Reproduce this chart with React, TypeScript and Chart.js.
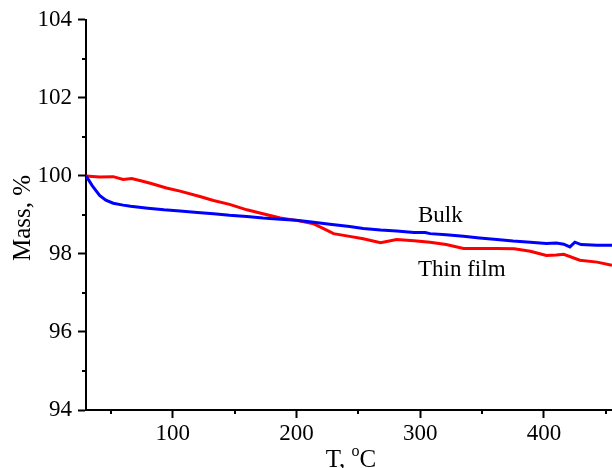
import { useEffect, useRef } from "react";
import { Chart, registerables } from "chart.js";
Chart.register(...registerables);

const bulkT = [30, 35, 41, 46, 52, 60, 66, 80, 93, 106, 120, 133, 146, 160, 173, 187, 200, 214, 227, 243, 254, 268, 281, 295, 304, 308, 321, 335, 348, 362, 375, 389, 402, 410, 416, 421, 425, 430, 443, 455];
const bulkMass = [100.0, 99.75, 99.5, 99.38, 99.3, 99.25, 99.22, 99.17, 99.13, 99.1, 99.06, 99.03, 98.99, 98.96, 98.92, 98.89, 98.86, 98.81, 98.76, 98.7, 98.65, 98.61, 98.59, 98.55, 98.55, 98.52, 98.49, 98.45, 98.41, 98.37, 98.33, 98.3, 98.27, 98.28, 98.25, 98.18, 98.3, 98.24, 98.22, 98.22];

const filmT = [30, 41, 52, 60, 67, 75, 82, 95, 106, 122, 133, 146, 160, 173, 187, 200, 214, 222, 230, 243, 254, 268, 281, 295, 308, 321, 335, 348, 362, 376, 389, 402, 410, 416, 429, 443, 455];
const filmMass = [100.0, 99.97, 99.98, 99.91, 99.93, 99.87, 99.81, 99.69, 99.61, 99.47, 99.37, 99.27, 99.13, 99.03, 98.92, 98.86, 98.77, 98.65, 98.52, 98.45, 98.39, 98.29, 98.37, 98.34, 98.3, 98.24, 98.14, 98.14, 98.14, 98.13, 98.07, 97.96, 97.97, 97.99, 97.84, 97.79, 97.71];

const xTickValues = [50, 100, 150, 200, 250, 300, 350, 400, 450];
const yTickValues = [94, 95, 96, 97, 98, 99, 100, 101, 102, 103, 104];
const xMajorStep = 100;
const yMajorStep = 2;

const seriesNames = ["Bulk", "Thin film"];
const yTitle = "Mass, %";

const FONT = "'Liberation Serif', 'Times New Roman', serif";

const overlayPlugin = {
  id: "overlay",
  afterDraw(chart: any) {
    const ctx = chart.ctx;
    const xs = chart.scales.x;
    const ys = chart.scales.y;
    const ca = chart.chartArea;
    ctx.save();
    ctx.strokeStyle = "#000";
    ctx.lineWidth = 2;
    // minor ticks
    xTickValues.forEach((v) => {
      if (v % xMajorStep !== 0) {
        const px = Math.round(xs.getPixelForValue(v));
        ctx.beginPath();
        ctx.moveTo(px, ca.bottom);
        ctx.lineTo(px, ca.bottom + 4);
        ctx.stroke();
      }
    });
    yTickValues.forEach((v) => {
      if (v % yMajorStep !== 0) {
        const py = Math.round(ys.getPixelForValue(v));
        ctx.beginPath();
        ctx.moveTo(ca.left, py);
        ctx.lineTo(ca.left - 4, py);
        ctx.stroke();
      }
    });
    ctx.fillStyle = "#000";
    // series labels
    ctx.font = `23px ${FONT}`;
    ctx.textAlign = "left";
    ctx.textBaseline = "alphabetic";
    ctx.fillText(seriesNames[0], 418, 222);
    ctx.fillText(seriesNames[1], 418, 276);
    // y title
    ctx.save();
    ctx.translate(30, (ca.top + ca.bottom) / 2 + 3);
    ctx.rotate(-Math.PI / 2);
    ctx.font = `25px ${FONT}`;
    ctx.textAlign = "center";
    ctx.fillText(yTitle, 0, 0);
    ctx.restore();
    // x title: T, °C with superscript o
    const big = `25px ${FONT}`;
    const small = `16px ${FONT}`;
    ctx.font = big;
    const p1 = "T, ";
    const p3 = "C";
    const w1 = ctx.measureText(p1).width;
    const w3 = ctx.measureText(p3).width;
    ctx.font = small;
    const w2 = ctx.measureText("o").width;
    const total = w1 + w2 + w3;
    let x = (ca.left + ca.right) / 2 - total / 2 + 2;
    const base = 467;
    ctx.textAlign = "left";
    ctx.font = big;
    ctx.fillText(p1, x, base);
    x += w1;
    ctx.font = small;
    ctx.fillText("o", x, base - 11);
    x += w2;
    ctx.font = big;
    ctx.fillText(p3, x, base);
    ctx.restore();
  },
};

export default function App() {
  const ref = useRef<HTMLCanvasElement>(null);
  useEffect(() => {
    if (!ref.current) return;
    const chart = new Chart(ref.current, {
      type: "line",
      data: {
        datasets: [
          {
            label: seriesNames[0],
            data: bulkT.map((t, i) => ({ x: t, y: bulkMass[i] })),
            borderColor: "#0000ff",
            backgroundColor: "#0000ff",
            borderWidth: 3,
            pointRadius: 0,
            tension: 0,
          },
          {
            label: seriesNames[1],
            data: filmT.map((t, i) => ({ x: t, y: filmMass[i] })),
            borderColor: "#ff0000",
            backgroundColor: "#ff0000",
            borderWidth: 3,
            pointRadius: 0,
            tension: 0,
          },
        ],
      },
      options: {
        animation: false,
        responsive: false,
        layout: { padding: { top: 19, left: 0, right: 0, bottom: 0 } },
        plugins: {
          legend: { display: false },
          tooltip: { enabled: false },
        },
        scales: {
          x: {
            type: "linear",
            min: 30,
            max: 455,
            afterBuildTicks: (s: any) => {
              s.ticks = xTickValues.map((v) => ({ value: v }));
            },
            afterFit: (s: any) => {
              s.height = 58;
            },
            ticks: {
              autoSkip: false,
              maxRotation: 0,
              padding: 2,
              color: "#000",
              font: { family: FONT, size: 23 },
              callback: (v: any) => (Number(v) % xMajorStep === 0 ? String(v) : ""),
            },
            grid: {
              drawOnChartArea: false,
              drawTicks: true,
              tickLength: 8,
              tickWidth: 2,
              tickColor: (c: any) => (c.tick && c.tick.value % xMajorStep === 0 ? "#000" : "rgba(0,0,0,0)"),
            },
            border: { display: true, color: "#000", width: 2 },
          },
          y: {
            type: "linear",
            min: 94,
            max: 104,
            afterBuildTicks: (s: any) => {
              s.ticks = yTickValues.map((v) => ({ value: v }));
            },
            afterFit: (s: any) => {
              s.width = 86;
            },
            ticks: {
              autoSkip: false,
              padding: 6,
              color: "#000",
              font: { family: FONT, size: 23 },
              callback: (v: any) => (Number(v) % yMajorStep === 0 ? String(v) : ""),
            },
            grid: {
              drawOnChartArea: false,
              drawTicks: true,
              tickLength: 8,
              tickWidth: 2,
              tickColor: (c: any) => (c.tick && c.tick.value % yMajorStep === 0 ? "#000" : "rgba(0,0,0,0)"),
            },
            border: { display: true, color: "#000", width: 2 },
          },
        },
      },
      plugins: [overlayPlugin],
    } as any);
    return () => chart.destroy();
  }, []);
  return (
    <div style={{ position: "absolute", left: 0, top: 0, width: 612, height: 468, overflow: "hidden", background: "#fff" }}>
      <canvas ref={ref} width={612} height={468} style={{ display: "block" }} />
    </div>
  );
}
